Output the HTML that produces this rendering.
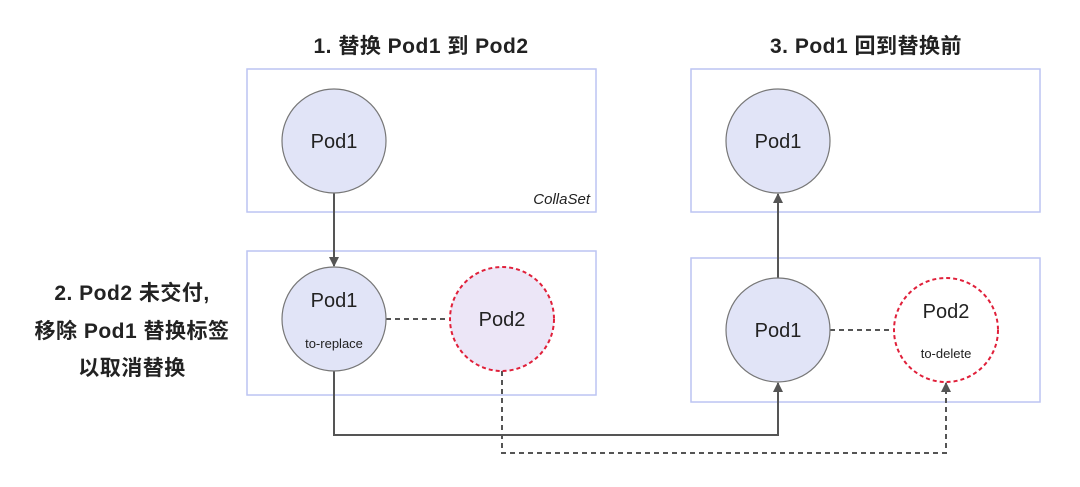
<!DOCTYPE html>
<html><head><meta charset="utf-8"><style>
html,body{margin:0;padding:0;background:#fff;}
svg{display:block;}
text{font-family:"Liberation Sans","Noto Sans CJK SC",sans-serif;fill:#222;}
</style></head><body>
<svg width="1080" height="487" viewBox="0 0 1080 487" xmlns="http://www.w3.org/2000/svg">
<defs>
<marker id="ah" viewBox="0 0 10 10" refX="9" refY="5" markerWidth="10" markerHeight="10" markerUnits="userSpaceOnUse" orient="auto">
<path d="M0,0 L10,5 L0,10 z" fill="#555"/></marker>
</defs>
<text x="421" y="53" font-size="21" font-weight="bold" text-anchor="middle" letter-spacing="0.5">1. 替换 Pod1 到 Pod2</text>
<text x="866" y="53" font-size="21" font-weight="bold" text-anchor="middle" letter-spacing="0.5">3. Pod1 回到替换前</text>
<text x="132" y="300" font-size="21" font-weight="bold" text-anchor="middle" letter-spacing="0.5">2. Pod2 未交付,</text>
<text x="132" y="338" font-size="21" font-weight="bold" text-anchor="middle" letter-spacing="0.5">移除 Pod1 替换标签</text>
<text x="132" y="375" font-size="21" font-weight="bold" text-anchor="middle" letter-spacing="0.5">以取消替换</text>

<g fill="none" stroke="#bcc4f2" stroke-width="1.5">
<rect x="247" y="69" width="349" height="143"/>
<rect x="247" y="251" width="349" height="144"/>
<rect x="691" y="69" width="349" height="143"/>
<rect x="691" y="258" width="349" height="144"/>
</g>
<text x="590" y="204" font-size="15" font-style="italic" text-anchor="end" fill="#333">CollaSet</text>

<g stroke="#555" stroke-width="2" fill="none">
<line x1="334" y1="193" x2="334" y2="266" marker-end="url(#ah)"/>
<line x1="778" y1="278" x2="778" y2="194" marker-end="url(#ah)"/>
<polyline points="334,371 334,435 778,435 778,383" marker-end="url(#ah)"/>
</g>
<g stroke="#555" stroke-width="2" fill="none" stroke-dasharray="5,4">
<polyline points="502,371 502,453 946,453 946,383" marker-end="url(#ah)"/>
<line x1="386" y1="319" x2="450" y2="319"/>
<line x1="830" y1="330" x2="894" y2="330"/>
</g>

<g stroke="#777" stroke-width="1.2" fill="#e1e4f7">
<circle cx="334" cy="141" r="52"/>
<circle cx="334" cy="319" r="52"/>
<circle cx="778" cy="141" r="52"/>
<circle cx="778" cy="330" r="52"/>
</g>
<circle cx="502" cy="319" r="52" fill="#ece6f7" stroke="#e0203a" stroke-width="2" stroke-dasharray="4,3"/>
<circle cx="946" cy="330" r="52" fill="#fff" stroke="#e0203a" stroke-width="2" stroke-dasharray="4,3"/>

<g font-size="20" text-anchor="middle">
<text x="334" y="148">Pod1</text>
<text x="334" y="307">Pod1</text>
<text x="502" y="326">Pod2</text>
<text x="778" y="148">Pod1</text>
<text x="778" y="337">Pod1</text>
<text x="946" y="318">Pod2</text>
</g>
<text x="334" y="348" font-size="13" text-anchor="middle" fill="#333">to-replace</text>
<text x="946" y="358" font-size="13" text-anchor="middle" fill="#333">to-delete</text>
</svg>
</body></html>
